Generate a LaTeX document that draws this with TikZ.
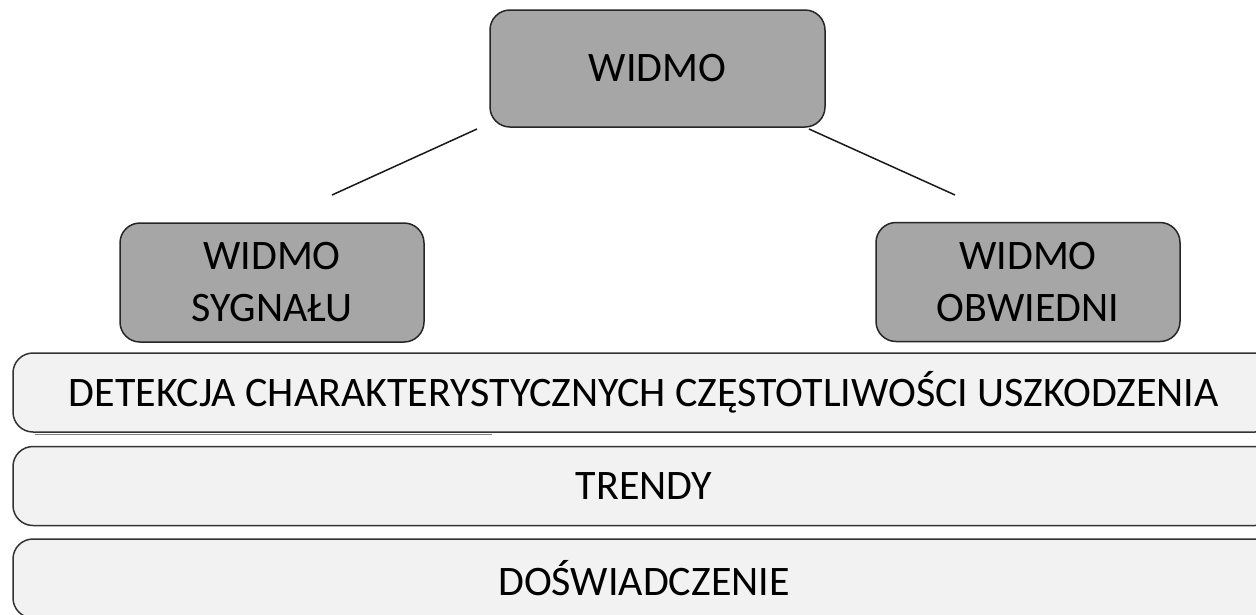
\documentclass[tikz,border=0pt]{standalone}
\usepackage{fontspec}
\setmainfont{Carlito}
\usetikzlibrary{positioning}

\tikzset{
  napis/.style={font=\fontsize{42}{52}\selectfont, align=center, text=black},
  widmo/.style={napis, draw=black!85, fill=black!35, line width=1.5pt,
    rounded corners=20pt, minimum width=304pt, minimum height=119pt},
  pasek/.style={napis, draw=black!80, fill=black!5, line width=1.5pt,
    rounded corners=20pt, minimum width=1262pt, minimum height=79pt},
  linia/.style={draw=black!90, line width=1.5pt}
}

\begin{document}
\begin{tikzpicture}[x=1pt,y=-1pt]
  \useasboundingbox (0,0) rectangle (1256,614);

  % boxes with the spectra
  \node[widmo, minimum width=335pt, minimum height=117pt] (widmo) at (657.5,68.5) {WIDMO};
  \node[widmo] (sygnal) at (272,282.5) {WIDMO\\SYGNAŁU};
  \node[widmo] (obwiednia) at (1028,282) {WIDMO\\OBWIEDNI};

  % free standing lines under the top box
  \coordinate (l1) at (332,195);
  \coordinate (l2) at (477,129);
  \coordinate (p1) at (809,129);
  \coordinate (p2) at (955,195);
  \draw[linia] (l1) -- (l2);
  \draw[linia] (p1) -- (p2);

  % the three bars, running off the right edge
  \node[pasek] (detekcja) at (644,392.5) {DETEKCJA CHARAKTERYSTYCZNYCH CZĘSTOTLIWOŚCI USZKODZENIA};
  \coordinate (c1) at (35,434);
  \coordinate (c2) at (492,434);
  \draw[black!50, line width=1pt] (c1) -- (c2);
  \node[pasek] (trendy) at (644,486) {TRENDY};
  \node[pasek] (doswiadczenie) at (644,578.5) {DOŚWIADCZENIE};
\end{tikzpicture}
\end{document}
